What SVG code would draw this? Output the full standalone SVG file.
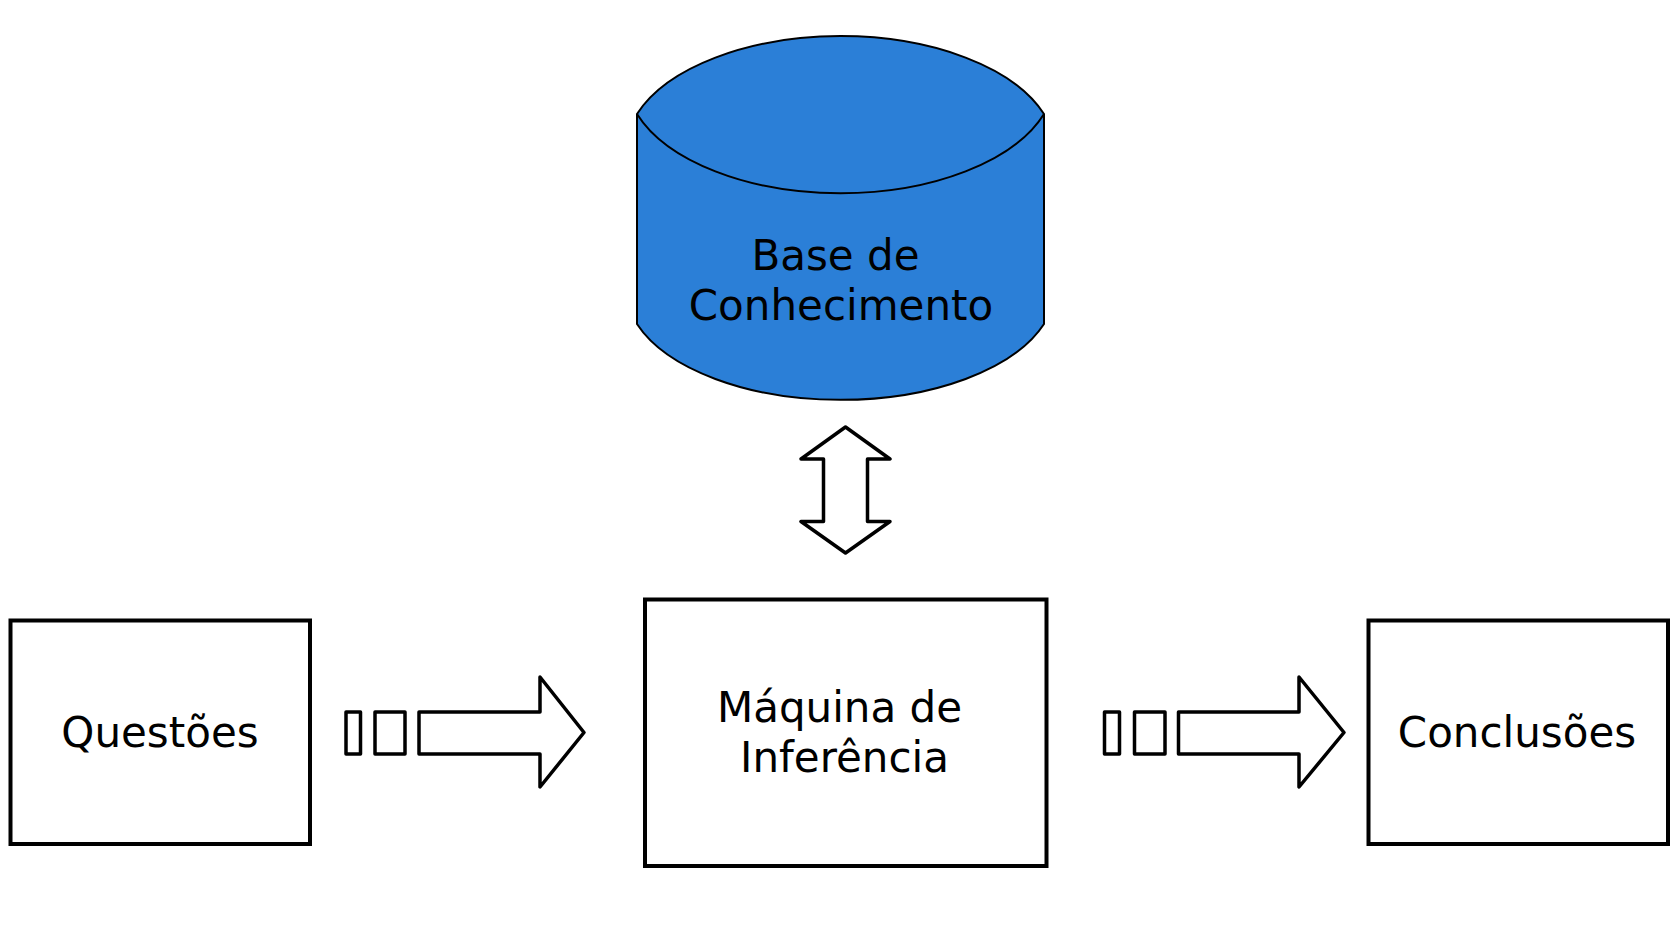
<svg xmlns="http://www.w3.org/2000/svg" width="1679" height="951" viewBox="0 0 1679 951">
<style>
.box{fill:#ffffff;stroke:#000000;stroke-width:4}
.arr{fill:#ffffff;stroke:#000000;stroke-width:3.5;stroke-linejoin:round}
.cyl{fill:#2b7fd7;stroke:#000000;stroke-width:2}
.lbl{font-family:"DejaVu Sans","Liberation Sans",sans-serif;font-size:42px;fill:#000000;text-anchor:middle}
</style>
<rect width="1679" height="951" fill="#ffffff"/>
<g id="base-conhecimento">
<path class="cyl" d="M637,114 A215,115 0 0 1 1044,114 L1044,324 A215,112 0 0 1 637,324 Z"/>
<path class="cyl" fill="none" d="M637,114 A215,117 0 0 0 1044,114"/>
<text class="lbl" x="835.5" y="270">Base de</text>
<text class="lbl" x="841" y="320">Conhecimento</text>
</g>
<g id="questoes">
<rect class="box" x="10.5" y="620.5" width="299.5" height="223.5"/>
<text class="lbl" x="160" y="746.5">Questões</text>
</g>
<g id="maquina">
<rect class="box" x="645" y="599.5" width="401.5" height="266.5"/>
<text class="lbl" x="839.5" y="721.5">Máquina de</text>
<text class="lbl" x="844.5" y="771.5">Inferência</text>
</g>
<g id="conclusoes">
<rect class="box" x="1368.5" y="620.5" width="299.5" height="223.5"/>
<text class="lbl" x="1517" y="746.5">Conclusões</text>
</g>
<g id="connectors">
<polygon class="arr" points="845.5,427 890,459 867.5,459 867.5,521.5 890,521.5 845.5,553 801,521.5 823.5,521.5 823.5,459 801,459"/>
<rect class="arr" x="346" y="712" width="14.5" height="42"/>
<rect class="arr" x="375" y="712" width="30" height="42"/>
<polygon class="arr" points="419,712 540,712 540,677 584,732.5 540,787 540,754 419,754"/>
<rect class="arr" x="1104.5" y="712" width="15" height="42"/>
<rect class="arr" x="1134.5" y="712" width="30.5" height="42"/>
<polygon class="arr" points="1178.5,712 1299,712 1299,677 1344,732.5 1299,787 1299,754 1178.5,754"/>
</g>
</svg>
